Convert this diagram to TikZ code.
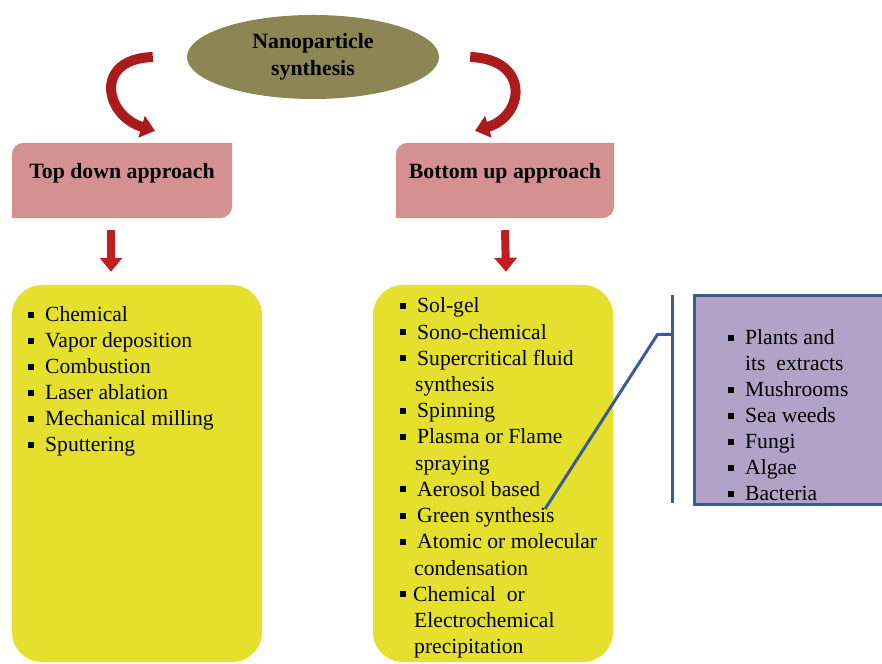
\documentclass[tikz,border=0pt]{standalone}
\usepackage{fontspec}
\setmainfont{Liberation Serif}
\usetikzlibrary{shapes.geometric,arrows.meta}
\definecolor{npolive}{RGB}{140,134,84}
\definecolor{pinkc}{RGB}{213,145,146}
\definecolor{yellowc}{RGB}{229,223,46}
\definecolor{purplec}{RGB}{178,162,199}
\definecolor{bluec}{RGB}{60,92,145}
\definecolor{arrred}{RGB}{190,32,32}
\definecolor{curvred}{RGB}{170,28,28}
\newcommand\sqb{\rule[4pt]{6pt}{6pt}\hspace{11pt}}
\newcommand\pinkshape[1]{\fill[pinkc] (#1.south west) -- ([yshift=-12]#1.north west) arc[start angle=180,end angle=90,radius=12] -- (#1.north east) -- ([yshift=12]#1.south east) arc[start angle=0,end angle=-90,radius=12] -- cycle;}
\tikzset{
  boxfrm/.style={minimum height=75, inner sep=0},
  titlef/.style={font=\bfseries\fontsize{21.8}{26}\selectfont, inner sep=0},
  listf/.style={font=\fontsize{21.6}{26}\selectfont, align=left, inner sep=0, anchor=base west},
  ybox/.style={fill=yellowc, rounded corners=30, inner sep=0},
  downarrow/.style={line width=8, draw=arrred, -{Triangle[width=22,length=14]}},
  curvarrow/.style={line width=10, draw=curvred, -{Triangle[width=22,length=14]}},
  bline/.style={draw=bluec, line width=3}
}
\begin{document}
\begin{tikzpicture}[x=1pt,y=1pt]
\useasboundingbox (0,0) rectangle (882,663);
\fill[white] (0,0) rectangle (882,663);
% top ellipse
\node[ellipse, fill=npolive, minimum width=252, minimum height=84, inner sep=0, align=center,
      font=\bfseries\fontsize{21.8}{27}\selectfont] (np) at (313,606) {Nanoparticle\\synthesis};
% pink boxes
\node[boxfrm, minimum width=220] (td) at (122,482.5) {};
\node[boxfrm, minimum width=218] (bu) at (505,482.5) {};
\pinkshape{td}
\pinkshape{bu}
\node[titlef] (tdt) at ([yshift=7.5]td.center) {Top down approach};
\node[titlef] (but) at ([yshift=7.5]bu.center) {Bottom up approach};
% curved arrows
\draw[curvarrow] ([xshift=-34]np.west) .. controls +(-60,-2) and +(-50,15) .. ([xshift=33,yshift=12]td.north);
\draw[curvarrow] ([xshift=31]np.east) .. controls +(60,-2) and +(50,15) .. ([xshift=-30,yshift=12]bu.north);
% yellow boxes
\node[ybox, minimum width=250, minimum height=377] (ly) at (137,189.5) {};
\node[ybox, minimum width=240, minimum height=377] (ry) at (493,189.5) {};
% down arrows
\draw[downarrow] ([xshift=-11,yshift=-12]td.south) -- ([xshift=-26,yshift=13]ly.north);
\draw[downarrow] ([yshift=-12]bu.south) -- ([xshift=13,yshift=13]ry.north);
% lists (base anchor = baseline of the last line)
\node[listf] (ll) at (28,211) {\sqb Chemical\\ \sqb Vapor deposition\\ \sqb Combustion\\ \sqb Laser ablation\\ \sqb Mechanical milling\\ \sqb Sputtering};
\node[listf, font=\fontsize{21.6}{26.2}\selectfont] (rl) at (400,9.4) {\sqb Sol-gel\\ \sqb Sono-chemical\\ \sqb Supercritical fluid\\ \hspace{15pt}synthesis\\ \sqb Spinning\\ \sqb Plasma or Flame\\ \hspace{15pt}spraying\\ \sqb Aerosol based\\ \sqb Green synthesis\\ \sqb Atomic or molecular\\ \hspace{14pt}condensation\\ \rule[4pt]{6pt}{6pt}\hspace{7pt}Chemical\ \ or\\ \hspace{14pt}Electrochemical\\ \hspace{14pt}precipitation};
% purple box
\node[fill=purplec, draw=bluec, line width=3, minimum width=196, minimum height=209, inner sep=0] (pb) at (792,262.5) {};
\node[listf] (pl) at (728,162) {\sqb Plants and\\ \hspace{17pt}its\ \ extracts\\ \sqb Mushrooms\\ \sqb Sea weeds\\ \sqb Fungi\\ \sqb Algae\\ \sqb Bacteria};
% bracket connector
\coordinate (bt) at ([xshift=-20,yshift=-1]pb.north west);
\coordinate (bb) at ([xshift=-20,yshift=3]pb.south west);
\coordinate (bm) at ([xshift=-20,yshift=-40]pb.north west);
\coordinate (bk) at ([xshift=-35,yshift=-40]pb.north west);
\coordinate (gs) at (545,154);
\draw[bline] (bt) -- (bb);
\draw[bline] (bm) -- (bk) -- (gs);
\end{tikzpicture}
\end{document}
